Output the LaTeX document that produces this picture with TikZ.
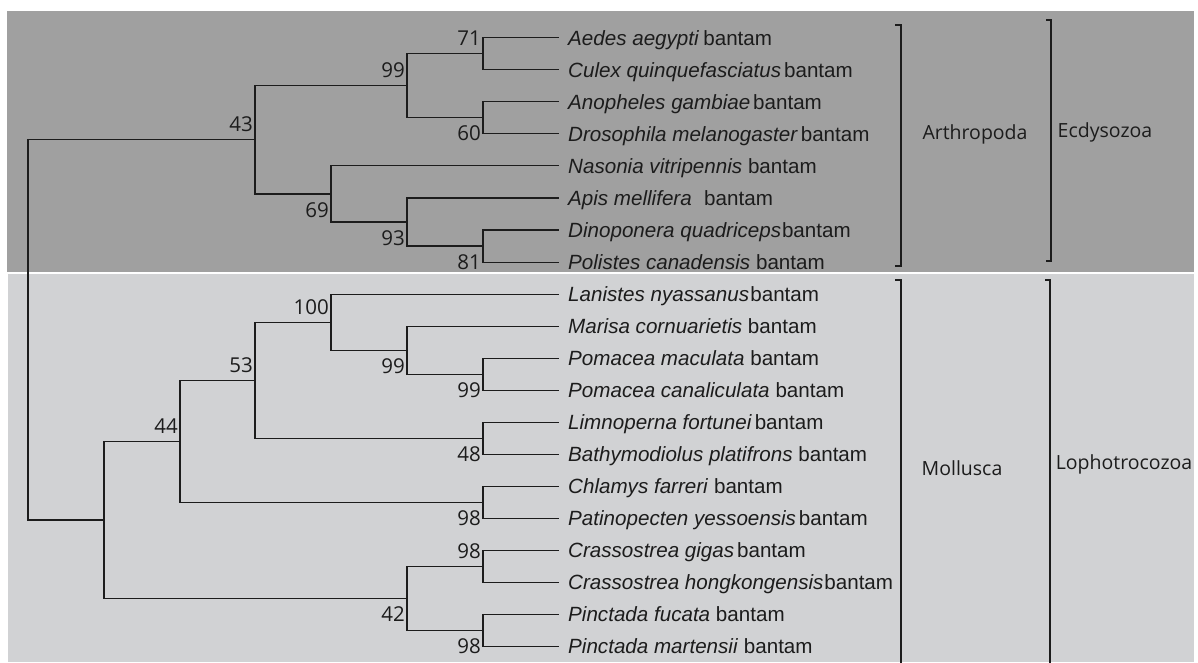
\documentclass[tikz,border=0pt]{standalone}
\usepackage{fontspec}
\setmainfont{Liberation Sans}
\newfontfamily\labelfont{Open Sans}
\usetikzlibrary{positioning}
\definecolor{ecdyband}{HTML}{A0A0A0}
\definecolor{lophoband}{HTML}{D1D2D4}
\definecolor{ink}{HTML}{1C1C1C}
\tikzset{
  every node/.style={text=ink},
  branch/.style={draw=ink,line width=1.1pt},
  taxon/.style={font=\fontsize{20.6}{24}\selectfont,inner sep=0pt,text height=14.6pt,text depth=0pt},
  boot/.style={font=\labelfont\fontsize{20.5}{24}\selectfont,inner sep=0pt,text height=15pt,text depth=0pt},
  bootup/.style={boot,yshift=15.5pt},
  bootdown/.style={boot,yshift=-15.5pt},
  clade/.style={draw=ink,line width=1.1pt},
  cladename/.style={font=\labelfont\fontsize{19.5}{24}\selectfont,inner sep=0pt,text height=14pt,text depth=0pt}
}

\begin{document}
\begin{tikzpicture}[x=1pt,y=-1pt]
  \useasboundingbox (0,0) rectangle (1198,662);
  % Shaded blocks for the two superphyla.
  \fill[ecdyband] (7,11) rectangle (1194,272);
  \fill[lophoband] (8,274) rectangle (1194,662);

  % Tips and species names.
  \foreach \i/\tx/\gp in {0/Aedes aegypti/.2em, 1/Culex quinquefasciatus/.14em,
      2/Anopheles gambiae/.14em, 3/Drosophila melanogaster/.14em,
      4/Nasonia vitripennis/.28em, 5/Apis mellifera/.6em,
      6/Dinoponera quadriceps/.04em, 7/Polistes canadensis/.28em,
      8/Lanistes nyassanus/.06em, 9/Marisa cornuarietis/.28em,
      10/Pomacea maculata/.28em, 11/Pomacea canaliculata/.28em,
      12/Limnoperna fortunei/.14em, 13/Bathymodiolus platifrons/.28em,
      14/Chlamys farreri/.28em, 15/Patinopecten yessoensis/.14em,
      16/Crassostrea gigas/.14em, 17/Crassostrea hongkongensis/.04em,
      18/Pinctada fucata/.28em, 19/Pinctada martensii/.28em}
  {
    \coordinate (t\i) at (559,{37.7+32.05*\i});
    \node[taxon,right=9pt of t\i] (s\i) {\textit{\tx}\hspace{\gp}bantam};
  }

  % Internal nodes.
  \coordinate (a71) at (483,53.7);
  \coordinate (a60) at (483,117.8);
  \coordinate (a99) at (407,85.8);
  \coordinate (a81) at (483,246.0);
  \coordinate (a93) at (407,222.0);
  \coordinate (a69) at (331,194.0);
  \coordinate (a43) at (255,139.9);
  \coordinate (b99p) at (483,374.2);
  \coordinate (b99) at (407,350.2);
  \coordinate (b100) at (331,322.1);
  \coordinate (b48) at (483,438.3);
  \coordinate (b53) at (255,380.2);
  \coordinate (b98c) at (483,502.4);
  \coordinate (b44) at (180,441.3);
  \coordinate (b98g) at (483,566.5);
  \coordinate (b98p) at (483,630.6);
  \coordinate (b42) at (407,598.6);
  \coordinate (b104) at (104,520.0);
  \coordinate (root) at (28,330.0);

  \foreach \p/\c in {a71/t0, a71/t1, a60/t2, a60/t3, a99/a71, a99/a60,
      a81/t6, a81/t7, a93/t5, a93/a81, a69/t4, a69/a93, a43/a99, a43/a69,
      b99p/t10, b99p/t11, b99/t9, b99/b99p, b100/t8, b100/b99,
      b48/t12, b48/t13, b53/b100, b53/b48, b98c/t14, b98c/t15,
      b44/b53, b44/b98c, b98g/t16, b98g/t17, b98p/t18, b98p/t19,
      b42/b98g, b42/b98p, b104/b44, b104/b42, root/a43, root/b104}
    \draw[branch] (\p) |- (\c);

  % Bootstrap support.
  \node[bootup,left=2pt of a71] (l71) {71};
  \node[bootup,left=2pt of a99] (l99a) {99};
  \node[bootdown,left=2pt of a60] (l60) {60};
  \node[bootup,left=2pt of a43] (l43) {43};
  \node[bootdown,left=2pt of a69] (l69) {69};
  \node[bootdown,left=2pt of a93] (l93) {93};
  \node[bootdown,left=2pt of a81] (l81) {81};
  \node[bootup,left=2pt of b100] (l100) {100};
  \node[bootup,left=2pt of b53] (l53) {53};
  \node[bootdown,left=2pt of b99] (l99b) {99};
  \node[bootdown,left=2pt of b99p] (l99c) {99};
  \node[bootup,left=2pt of b44] (l44) {44};
  \node[bootdown,left=2pt of b48] (l48) {48};
  \node[bootdown,left=2pt of b98c] (l98a) {98};
  \node[bootup,left=2pt of b98g] (l98b) {98};
  \node[bootdown,left=2pt of b42] (l42) {42};
  \node[bootdown,left=2pt of b98p] (l98c) {98};

  % Clade brackets.
  \draw[clade] (895,25) -- (901,25) -- (901,266) -- (895,266);
  \draw[clade] (1046,20) -- (1051,20) -- (1051,261) -- (1046,261);
  \draw[clade] (895,280) -- (901,280) -- (901,663);
  \draw[clade] (1045,280) -- (1050,280) -- (1050,663);
  \node[cladename] (arth) at (975,132) {Arthropoda};
  \node[cladename] (ecdy) at (1105,130) {Ecdysozoa};
  \node[cladename] (moll) at (962,468) {Mollusca};
  \node[cladename] (loph) at (1124,462) {Lophotrocozoa};
\end{tikzpicture}
\end{document}
